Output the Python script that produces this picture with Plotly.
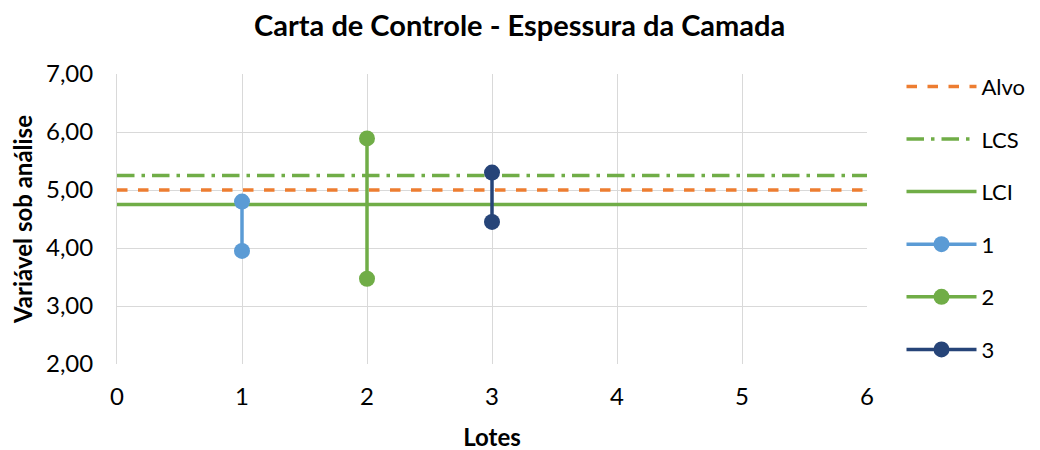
import plotly.graph_objects as go

lotes_ref = [0, 6]
alvo = [5.00, 5.00]
lcs = [5.25, 5.25]
lci = [4.75, 4.75]

series_names = ["1", "2", "3"]
series_x = [[1, 1], [2, 2], [3, 3]]
series_y = [[4.80, 3.95], [5.89, 3.47], [5.30, 4.45]]
series_colors = ["#5B9BD5", "#70AD47", "#264478"]

FONT = "Lato"
FS = 24

fig = go.Figure()
fig.add_trace(go.Scatter(x=lotes_ref, y=alvo, mode="lines", name="Alvo",
                         line=dict(color="#ED7D31", width=3.5, dash="dash"), legendgroup="a"))
fig.add_trace(go.Scatter(x=lotes_ref, y=lcs, mode="lines", name="LCS",
                         line=dict(color="#70AD47", width=3.5, dash="longdashdot"), legendgroup="b"))
fig.add_trace(go.Scatter(x=lotes_ref, y=lci, mode="lines", name="LCI",
                         line=dict(color="#70AD47", width=3.5), legendgroup="c"))
for n, xs, ys, c in zip(series_names, series_x, series_y, series_colors):
    fig.add_trace(go.Scatter(x=xs, y=ys, mode="lines+markers", name=n,
                             line=dict(color=c, width=3.5),
                             marker=dict(color=c, size=16), legendgroup="s" + n))

fig.update_layout(
    width=1040, height=450,
    paper_bgcolor="white", plot_bgcolor="white",
    separators=",.",
    margin=dict(l=109, r=181, t=66, b=94, autoexpand=False),
    title=dict(text="<b>Carta de Controle - Espessura da Camada</b>", x=0.492, xanchor="center",
               xref="container", yref="container", y=0.96, yanchor="middle",
               font=dict(family=FONT, size=29, color="#000")),
    font=dict(family=FONT, size=FS, color="#000"),
    legend=dict(x=1.046, y=1.029, xanchor="left", yanchor="top", tracegroupgap=21,
                itemwidth=70, maxheight=420, font=dict(family=FONT, size=22, color="#000"),
                bgcolor="rgba(0,0,0,0)"),
    showlegend=True,
)
fig.update_xaxes(range=[0, 6], dtick=1, tick0=0, showgrid=True, gridcolor="#D9D9D9", gridwidth=1,
                 zeroline=False, showline=False, ticks="", automargin=False, ticklabelstandoff=16,
                 title=dict(text="<b>Lotes</b>", font=dict(family=FONT, size=FS), standoff=20),
                 tickfont=dict(family=FONT, size=FS))
fig.update_yaxes(range=[2, 7], dtick=1, tick0=2, tickformat=".2f", showgrid=True, gridcolor="#D9D9D9",
                 gridwidth=1, zeroline=False, showline=True, linecolor="#D9D9D9", ticks="",
                 automargin=False, ticklabelstandoff=18,
                 title=dict(text="<b>Variável sob análise</b>", font=dict(family=FONT, size=FS), standoff=17),
                 tickfont=dict(family=FONT, size=FS))

fig.write_html("out.html")
